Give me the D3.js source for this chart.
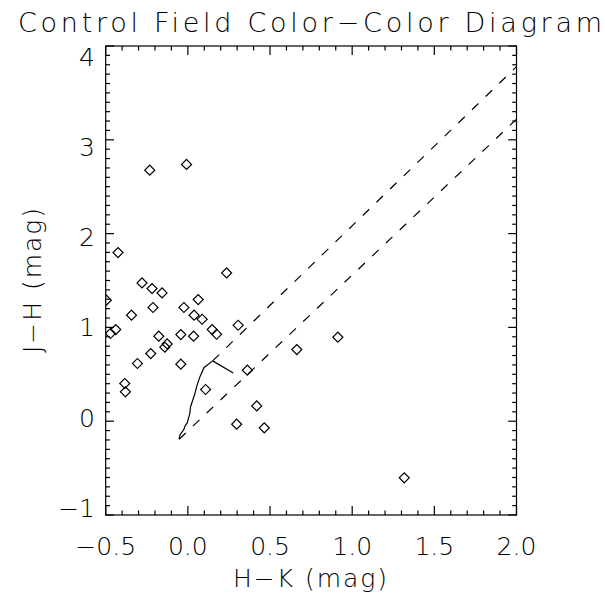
<!DOCTYPE html>
<html>
<head>
<meta charset="utf-8">
<script src="https://cdn.jsdelivr.net/npm/d3@7"></script>
<style>
  html, body { margin: 0; padding: 0; background: #fff; }
  svg { display: block; }
  text { font-family: "DejaVu Sans", sans-serif; font-weight: 200; fill: #000; }
</style>
</head>
<body>
<svg id="chart" width="605" height="597"></svg>
<script>
// ---- data ----
const starHK = [-0.232, -0.008, -0.425, 0.236, -0.279, -0.218, -0.157, -0.496, 0.063, -0.212,
  -0.024, -0.343, 0.038, 0.087, 0.306, -0.439, -0.471, 0.148, 0.175, -0.177,
  -0.043, 0.035, -0.126, -0.140, -0.226, -0.307, -0.043, -0.384, -0.380, 0.108,
  0.663, 0.913, 0.362, 0.419, 0.297, 0.465, 1.317];
const starJH = [2.676, 2.737, 1.798, 1.581, 1.474, 1.414, 1.368, 1.290, 1.297, 1.212,
  1.212, 1.130, 1.130, 1.087, 1.023, 0.977, 0.935, 0.977, 0.927, 0.906,
  0.924, 0.906, 0.824, 0.789, 0.721, 0.615, 0.608, 0.402, 0.313, 0.338,
  0.764, 0.896, 0.544, 0.163, -0.032, -0.071, -0.604];

// intrinsic dwarf locus
const dwarfHK = [-0.053, -0.049, -0.024, -0.018, -0.004, 0.012, 0.016, 0.043, 0.053, 0.073, 0.099, 0.151];
const dwarfJH = [-0.192, -0.149, -0.088, -0.053, -0.018, 0.082, 0.152, 0.295, 0.366, 0.472, 0.573, 0.643];
// giant branch
const giantHK = [0.151, 0.276];
const giantJH = [0.643, 0.515];
// reddening band (dashed)
const redUpperHK = [0.151, 2.0];
const redUpperJH = [0.643, 3.78];
const redLowerHK = [-0.053, 2.0];
const redLowerJH = [-0.192, 3.22];

const xTicks = [-0.5, 0.0, 0.5, 1.0, 1.5, 2.0];
const xTickLabels = ["\u22120.5", "0.0", "0.5", "1.0", "1.5", "2.0"];
const yTicks = [-1, 0, 1, 2, 3, 4];
const yTickLabels = ["\u22121", "0", "1", "2", "3", "4"];

const titleText = "Control Field Color\u2212Color Diagram";
const xTitle = "H\u2212K (mag)";
const yTitle = "J\u2212H (mag)";

// ---- layout ----
const L = 105.7, R = 516.5, T = 46, B = 515;
const svg = d3.select("#chart");
const x = d3.scaleLinear().domain([-0.5, 2.0]).range([L, R]);
const y = d3.scaleLinear().domain([-1, 4]).range([B, T]);
const yLab = d3.scaleLinear().domain([-1, 4]).range([508, 56.5]);

svg.append("defs").append("clipPath").attr("id", "clip")
  .append("rect").attr("x", L).attr("y", T).attr("width", R - L).attr("height", B - T);

// title
svg.append("text").attr("x", 18).attr("y", 32)
  .attr("font-size", 27).attr("textLength", 584).attr("lengthAdjust", "spacing")
  .text(titleText);

// axes
const minorX = d3.range(-0.5, 2.0001, 0.1).map(v => +v.toFixed(2));
const minorY = d3.range(-1, 4.0001, 0.1).map(v => +v.toFixed(2));
const isMajor = v => Math.abs(v * 2 - Math.round(v * 2)) < 1e-6;

const axStyle = g => g.call(s => s.select(".domain").remove());

const g = svg.append("g").attr("stroke", "#000").attr("stroke-width", 1.2).attr("fill", "none");
g.append("rect").attr("x", L).attr("y", T).attr("width", R - L).attr("height", B - T);

// x ticks bottom and top
minorX.forEach(v => {
  const len = isMajor(v) ? 9 : 4.5;
  g.append("line").attr("x1", x(v)).attr("x2", x(v)).attr("y1", B).attr("y2", B - len);
  g.append("line").attr("x1", x(v)).attr("x2", x(v)).attr("y1", T).attr("y2", T + len);
});
minorY.forEach(v => {
  const major = Math.abs(v - Math.round(v)) < 1e-6;
  const len = major ? 8.3 : 4.3;
  g.append("line").attr("x1", L).attr("x2", L + len).attr("y1", y(v)).attr("y2", y(v));
  g.append("line").attr("x1", R).attr("x2", R - len).attr("y1", y(v)).attr("y2", y(v));
});

// tick labels
svg.append("g").selectAll("text").data(xTicks).join("text")
  .attr("x", d => x(d)).attr("y", 555).attr("text-anchor", "middle")
  .attr("font-size", 25).text((d, i) => xTickLabels[i]);
svg.append("g").selectAll("text").data(yTicks).join("text")
  .attr("x", 95).attr("y", d => yLab(d)).attr("dy", "0.36em").attr("text-anchor", "end")
  .attr("font-size", 25).text((d, i) => yTickLabels[i]);

// axis titles
svg.append("text").attr("x", 233).attr("y", 587)
  .attr("font-size", 25).attr("textLength", 154).attr("lengthAdjust", "spacing").text(xTitle);
svg.append("text").attr("transform", "translate(41,353) rotate(-90)")
  .attr("font-size", 25).attr("textLength", 145).attr("lengthAdjust", "spacing").text(yTitle);

// plot content
const plot = svg.append("g").attr("clip-path", "url(#clip)");
const line = d3.line().x(d => x(d[0])).y(d => y(d[1]));
const zipPts = (a, b) => a.map((v, i) => [v, b[i]]);

plot.append("path").datum(zipPts(dwarfHK, dwarfJH)).attr("d", line)
  .attr("fill", "none").attr("stroke", "#000").attr("stroke-width", 1.2);
plot.append("path").datum(zipPts(giantHK, giantJH)).attr("d", line)
  .attr("fill", "none").attr("stroke", "#000").attr("stroke-width", 1.2);
[zipPts(redUpperHK, redUpperJH), zipPts(redLowerHK, redLowerJH)].forEach(pts => {
  plot.append("path").datum(pts).attr("d", line)
    .attr("fill", "none").attr("stroke", "#000").attr("stroke-width", 1.2)
    .attr("stroke-dasharray", "9,10");
});

const diamond = d3.symbol().type(d3.symbolSquare).size(50);
plot.append("g").selectAll("path").data(zipPts(starHK, starJH)).join("path")
  .attr("transform", d => `translate(${x(d[0])},${y(d[1])}) rotate(45)`)
  .attr("d", diamond)
  .attr("fill", "none").attr("stroke", "#000").attr("stroke-width", 1.2);
</script>
</body>
</html>
